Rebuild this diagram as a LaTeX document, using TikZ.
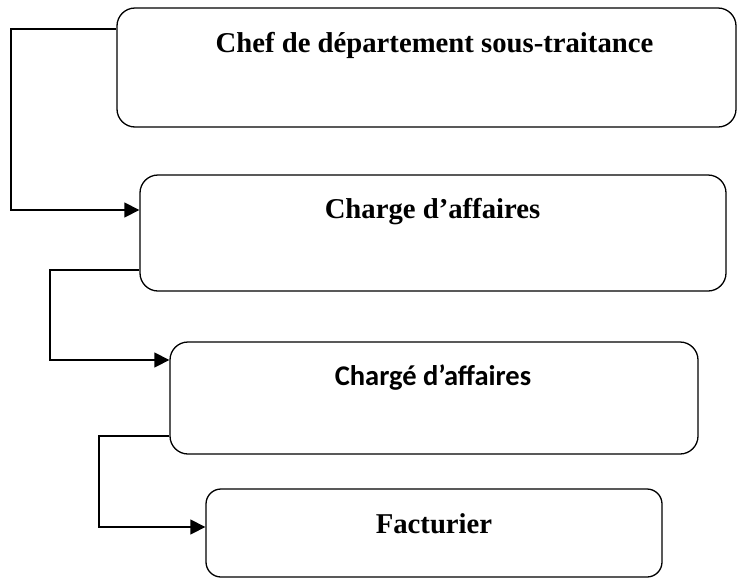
\documentclass[tikz,border=0pt]{standalone}
\usepackage{fontspec}
\setmainfont{Liberation Serif}
\newfontfamily\calib{Carlito}
\usetikzlibrary{arrows.meta}
\begin{document}
\begin{tikzpicture}[x=1pt,y=-1pt,
  boxst/.style={draw, line width=1.3pt, rounded corners=18pt, inner sep=0pt},
  lbl/.style={anchor=base, inner sep=0pt, font=\fontsize{28.7}{34}\selectfont\bfseries},
  conn/.style={line width=1.3pt, -{Triangle[length=15pt,width=15pt]}}]
\useasboundingbox (0,0) rectangle (737,579);
\node[boxst, minimum width=619pt, minimum height=119pt] (b1) at (426.5,67.5) {};
\node[boxst, minimum width=586pt, minimum height=116pt] (b2) at (433,233) {};
\node[boxst, minimum width=528pt, minimum height=112pt] (b3) at (434,398) {};
\node[boxst, rounded corners=15pt, minimum width=456pt, minimum height=88pt] (b4) at (434,533) {};
\node[lbl] (t1) at (434.5,52) {Chef de département sous-traitance};
\node[lbl] (t2) at (432.5,218) {Charge d’affaires};
\node[lbl, font=\calib\fontsize{28.5}{34}\selectfont\bfseries] (t3) at (433,385) {Chargé d’affaires};
\node[lbl] (t4) at (434,533) {Facturier};
\coordinate (k1) at (11,29);
\coordinate (k2) at (11,210);
\coordinate (k3) at (50,270);
\coordinate (k4) at (50,360);
\coordinate (k5) at (99,436);
\coordinate (k6) at (99,527);
\draw[conn] (b1.west |- k1) -- (k1) -- (k2) -- (b2.west |- k2);
\draw[conn] (b2.west |- k3) -- (k3) -- (k4) -- (b3.west |- k4);
\draw[conn] (b3.west |- k5) -- (k5) -- (k6) -- (b4.west |- k6);
\end{tikzpicture}
\end{document}
